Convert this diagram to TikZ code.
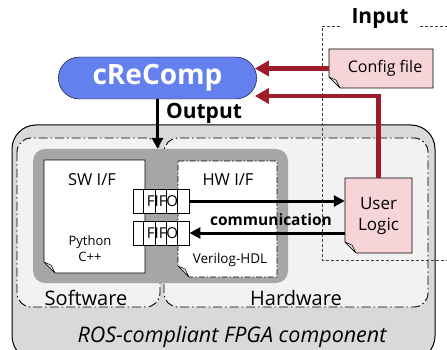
\documentclass[tikz,border=0pt]{standalone}
\usepackage{fontspec}
\setmainfont{Open Sans}
\usepackage{tikz}
\usetikzlibrary{calc,shapes.misc,arrows.meta}

\definecolor{crblue}{RGB}{100,128,238}
\definecolor{docpink}{RGB}{246,212,216}
\definecolor{fbred}{RGB}{158,27,44}
\definecolor{outergray}{RGB}{217,217,217}
\definecolor{regiongray}{RGB}{242,242,242}
\definecolor{coregray}{RGB}{166,166,166}

% document sheet with the folded corner at the bottom left
\newcommand{\docsheet}[5]{%
  \filldraw[#1] (#2,#3) -- (#4,#3) -- (#4,#5) -- (#2+11,#5) -- (#2,#5-11) -- cycle;
  \filldraw[fold] (#2,#5-11) -- (#2+7,#5-8) -- (#2+11,#5) -- cycle;}

\begin{document}
\begin{tikzpicture}[x=1pt, y=-1pt,
    region/.style={draw, fill=regiongray, rounded corners=14pt, line width=0.9pt,
      dash pattern=on 9pt off 3pt on 1.5pt off 3pt},
    doc/.style={draw, fill=white, line width=0.7pt},
    fold/.style={draw, fill=gray!25, line width=0.5pt, line join=round},
    fifo/.style={draw, fill=white, minimum width=56pt, minimum height=24pt, inner sep=0pt,
      line width=0.8pt, font=\fontsize{15}{17}\selectfont},
    comm/.style={-{Triangle[length=11pt,width=11pt]}, line width=3pt},
    feedback/.style={-{Triangle[length=14pt,width=15pt]}, fbred, line width=4.2pt},
    inputbox/.style={draw=black!75, line width=0.8pt, dash pattern=on 3pt off 2pt}]

  \useasboundingbox (0,0) rectangle (447,350);

  % component and its two halves
  \filldraw[fill=outergray, line width=1pt, rounded corners=24pt] (12,125) rectangle (435,360);
  \path[region] (17,138) rectangle (160,307);
  \path[region] (164,138) rectangle (428,307);
  \node[fill=coregray, rounded corners=12pt, minimum width=255pt, minimum height=134pt,
    inner sep=0pt] (core) at (160.5,216) {};

  \docsheet{doc}{44}{160}{145}{273}
  \docsheet{doc, dash pattern=on 6pt off 2pt on 1.5pt off 2pt}{178}{161}{277}{277}
  \node[font=\fontsize{16.5}{19}\selectfont] (swif) at (92,180) {SW I/F};
  \node[font=\fontsize{13}{16}\selectfont, align=center] (swlang) at (90,249) {Python\\C++};
  \node[font=\fontsize{16.5}{19}\selectfont] (hwif) at (228,180) {HW I/F};
  \node[font=\fontsize{13.5}{16}\selectfont] (hwlang) at (230,260) {Verilog-HDL};

  \node[fifo] (fifoup) at (161,201) {\hspace*{3pt}FIFO};
  \node[fifo] (fifodn) at (161,233) {\hspace*{3pt}FIFO};
  \foreach \f in {fifoup,fifodn}
    \foreach \i in {1,...,4}
      \draw[line width=0.8pt] ($(\f.south west)+(11.2*\i,0)$) -- ($(\f.north west)+(11.2*\i,0)$);

  \node[font=\fontsize{20}{23}\selectfont] (swlbl) at (86,298) {Software};
  \node[font=\fontsize{20}{23}\selectfont] (hwlbl) at (296,298) {Hardware};
  \node[font=\itshape\fontsize{21.5}{25}\selectfont] (roslbl) at (232,337) {ROS-compliant FPGA component};

  % input files
  \draw[inputbox] (340,26.5) -- (322,26.5) -- (322,260) -- (450,260);
  \draw[inputbox] (420,26.5) -- (450,26.5);
  \node[font=\bfseries\fontsize{21}{24}\selectfont] (inputlbl) at (380,19) {Input};
  \docsheet{doc, fill=docpink}{329}{49}{433}{88}
  \node[minimum width=104pt, minimum height=39pt, font=\fontsize{16}{19}\selectfont]
    (config) at (381,68.5) {\hspace*{8pt}Config file};
  \docsheet{doc, fill=docpink}{345}{178}{412}{253}
  \node[minimum width=67pt, minimum height=75pt, align=center,
    font=\fontsize{17}{21}\selectfont] (ulogic) at (378.5,215.5) {User\\Logic};

  \node[rounded rectangle, draw, fill=crblue, text=white, minimum width=205pt,
    minimum height=42pt, font=\bfseries\fontsize{28}{30}\selectfont] (crecomp) at (157.5,78) {cReComp};
  \node[font=\bfseries\fontsize{21}{24}\selectfont] (outlbl) at (204,113) {Output};
  \node[font=\bfseries\fontsize{15.5}{18}\selectfont] (commlbl) at (271,220) {communication};

  \draw[comm] (crecomp.south) -- (crecomp.south |- core.north);
  \draw[comm] (fifoup.east) -- (fifoup.east -| ulogic.west);
  \draw[comm] (fifodn.east -| ulogic.west) -- (fifodn.east);
  \draw[feedback] (config.west) -- ($(crecomp.east)+(-2,-9.5)$);
  \draw[feedback] (ulogic.north) |- ($(crecomp.east)+(-2,18)$);
\end{tikzpicture}
\end{document}
